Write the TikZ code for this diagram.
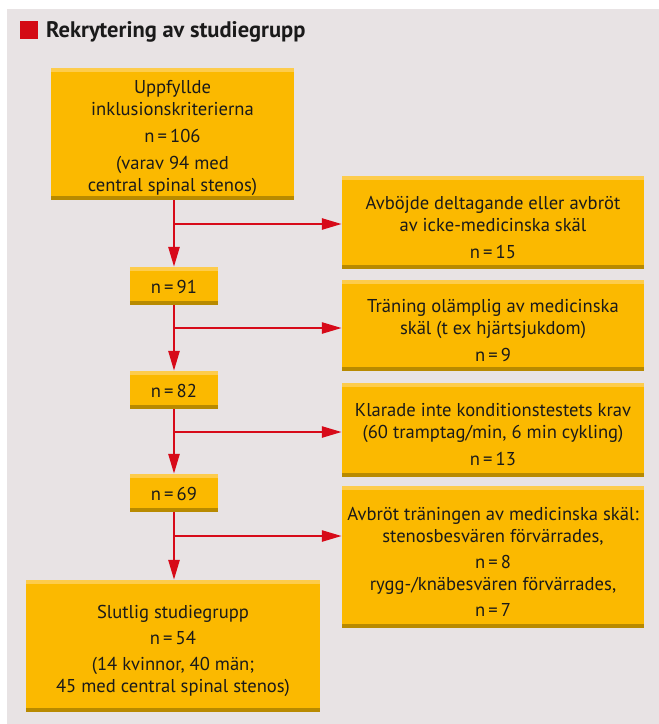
\documentclass[tikz,border=0pt]{standalone}
\usepackage{fontspec}
\setmainfont{PT Sans}
\usetikzlibrary{arrows.meta}
\definecolor{bg}{HTML}{E8E3E4}
\definecolor{boxfill}{HTML}{FBB900}
\definecolor{boxtop}{HTML}{FDCC4C}
\definecolor{boxbot}{HTML}{B88A00}
\definecolor{arrred}{HTML}{D70A19}
\definecolor{titlered}{HTML}{D40A14}
\definecolor{txt}{HTML}{1A1A1A}
\newcommand{\nval}[1]{n\thinspace=\thinspace#1}
\begin{document}
\begin{tikzpicture}[x=1pt,y=-1pt,
  box/.style={fill=boxfill, inner sep=0pt,
    path picture={
      \fill[boxtop] (path picture bounding box.north west) rectangle ([yshift=-3.5pt]path picture bounding box.north east);
      \fill[boxbot] ([yshift=4pt]path picture bounding box.south west) rectangle (path picture bounding box.south east);
    }},
  boxtext/.style={inner sep=0pt, align=center, text=txt,
    font=\fontsize{18.6}{22}\selectfont},
  smallbox/.style={box, minimum width=88pt, minimum height=38pt},
  sidebox/.style={box, minimum width=302pt},
  arr/.style={draw=arrred, line width=2.6pt, -{Triangle[length=20pt,width=11pt]}}
]
\useasboundingbox (0,0) rectangle (659,724);
\fill[bg] (7,9) rectangle (659,724);

\node[fill=titlered, minimum size=18pt, inner sep=0pt] (sq) at (29,30) {};
\node[anchor=base west, inner sep=0pt, text=txt, font=\fontsize{22.5}{26}\selectfont\bfseries] (title) at (46,37) {Rekrytering av studiegrupp};

% boxes
\node[box, minimum width=243pt, minimum height=132pt] (b1) at (172.5,134) {};
\node[smallbox] (n91) at (174,286) {};
\node[smallbox] (n82) at (174,390) {};
\node[smallbox] (n69) at (174,493) {};
\node[box, minimum width=294pt, minimum height=132pt] (fin) at (173,646) {};
\node[sidebox, minimum height=93pt] (A) at (493,222.5) {};
\node[sidebox, minimum height=91pt] (B) at (493,325.5) {};
\node[sidebox, minimum height=94pt] (C) at (493,430) {};
\node[sidebox, minimum height=142pt] (D) at (493,557) {};

% texts
\node[boxtext] (b1t) at ([yshift=-4pt]b1.center)
  {Uppfyllde\\inklusionskriterierna\\[5pt]\nval{106}\\[5pt](varav 94 med\\central spinal stenos)};
\node[boxtext] (n91t) at ([yshift=-1pt]n91.center) {\nval{91}};
\node[boxtext] (n82t) at ([yshift=-1pt]n82.center) {\nval{82}};
\node[boxtext] (n69t) at ([yshift=-1pt]n69.center) {\nval{69}};
\node[boxtext] (fint) at ([yshift=-5pt]fin.center)
  {Slutlig studiegrupp\\[4pt]\nval{54}\\[4pt](14 kvinnor, 40 män;\\45 med central spinal stenos)};
\node[boxtext] (At) at ([yshift=-5pt]A.center)
  {Avböjde deltagande eller avbröt\\av icke-medicinska skäl\\[5pt]\nval{15}};
\node[boxtext] (Bt) at ([yshift=-5pt]B.center)
  {Träning olämplig av medicinska\\skäl (t ex hjärtsjukdom)\\[5pt]\nval{9}};
\node[boxtext] (Ct) at ([yshift=-5pt]C.center)
  {Klarade inte konditionstestets krav\\(60 tramptag/min, 6 min cykling)\\[5pt]\nval{13}};
\node[boxtext] (Dt) at ([yshift=-5pt]D.center)
  {Avbröt träningen av medicinska skäl:\\stenosbesvären förvärrades,\\[4pt]\nval{8}\\rygg-/knäbesvären förvärrades,\\[4pt]\nval{7}};

\coordinate (j1) at (174,224);
\coordinate (j2) at (174,328);
\coordinate (j3) at (174,432);
\coordinate (j4) at (174,536);

\draw[arr] (b1.south -| n91.north) -- (n91.north);
\draw[arr] (n91.south) -- (n82.north);
\draw[arr] (n82.south) -- (n69.north);
\draw[arr] (n69.south) -- (fin.north -| n69.south);

\draw[arr] (j1) -- (j1 -| A.west);
\draw[arr] (j2) -- (j2 -| B.west);
\draw[arr] (j3) -- (j3 -| C.west);
\draw[arr] (j4) -- (j4 -| D.west);
\end{tikzpicture}
\end{document}
